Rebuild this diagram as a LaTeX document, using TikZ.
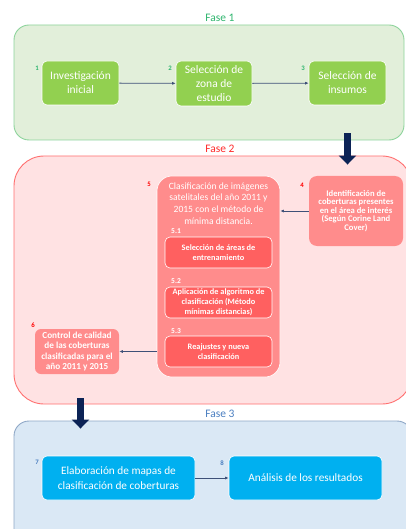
\documentclass[tikz,border=0pt]{standalone}
\usepackage{fontspec}
\setmainfont{Carlito}
\usetikzlibrary{arrows.meta,positioning}

\definecolor{greenFill}{HTML}{E2EFDA}
\definecolor{greenLine}{HTML}{8CD39B}
\definecolor{greenBox}{HTML}{92D050}
\definecolor{greenText}{HTML}{2FB56E}
\definecolor{redFill}{HTML}{FFE2E3}
\definecolor{redLine}{HTML}{FF7070}
\definecolor{redBox}{HTML}{FF8C8C}
\definecolor{redSub}{HTML}{FF6060}
\definecolor{redText}{HTML}{FF2A2A}
\definecolor{blueFill}{HTML}{DAE8F5}
\definecolor{blueLine}{HTML}{8EA7C6}
\definecolor{blueBox}{HTML}{00B0F0}
\definecolor{blueText}{HTML}{4A7EC0}
\definecolor{navy}{HTML}{0C2356}
\definecolor{flowC}{HTML}{3E5078}

\begin{document}
\begin{tikzpicture}[x=1pt,y=-1pt,
		phase/.style={draw, line width=0.9pt, inner sep=0pt},
		phaselabel/.style={font=\fontsize{11.5}{13}\selectfont},
		stepbox/.style={draw=white, line width=0.6pt, rounded corners=5pt, text=white, align=center, inner sep=0pt},
		subbox/.style={stepbox, fill=redSub, minimum width=107pt, minimum height=31pt, font=\bfseries\fontsize{8.3}{10}\selectfont},
		num/.style={font=\bfseries\fontsize{6.8}{7}\selectfont, inner sep=0pt},
		flow/.style={draw=flowC, line width=0.8pt, -{Latex[length=3.5pt,width=3pt]}},
		bigarrow/.style={draw=navy, line width=7.5pt, -{Triangle[length=9pt,width=17pt]}},
	]
	\useasboundingbox (0,0) rectangle (405,529);

	% phase frames
	\node[phase, draw=greenLine, fill=greenFill, rounded corners=15pt, minimum width=390pt, minimum height=115pt] (phase1) at (209,82.5) {};
	\node[phase, draw=redLine, fill=redFill, rounded corners=30pt, minimum width=398pt, minimum height=248pt] (phase2) at (213,280) {};
	\node[phase, draw=blueLine, fill=blueFill, rounded corners=15pt, minimum width=398pt, minimum height=124pt] (phase3) at (213,483) {};

	\node[phaselabel, text=greenText] (fase1) at (220,18) {Fase 1};
	\node[phaselabel, text=redText] (fase2) at (220,149) {Fase 2};
	\node[phaselabel, text=blueText] (fase3) at (220,414) {Fase 3};

	% fase 1
	\node[stepbox, fill=greenBox, minimum width=77pt, minimum height=44pt, font=\fontsize{11.5}{14}\selectfont] (box1) at (80.5,83) {Investigación\\inicial};
	\node[stepbox, fill=greenBox, minimum width=76pt, minimum height=45pt, font=\fontsize{11.5}{14}\selectfont] (box2) at (214,83.5) {Selección de\\zona de\\estudio};
	\node[stepbox, fill=greenBox, minimum width=77pt, minimum height=44pt, font=\fontsize{11.5}{14}\selectfont] (box3) at (347.5,83) {Selección de\\insumos};
	\node[num, text=greenText] (n1) at (37,68) {1};
	\node[num, text=greenText] (n2) at (170,68) {2};
	\node[num, text=greenText] (n3) at (303,68) {3};

	\draw[flow] (box1) -- (box2);
	\draw[flow] (box2) -- (box3);

	% fase 2
	\node[stepbox, fill=redBox, rounded corners=15pt, minimum width=123pt, minimum height=201pt] (box5) at (218.5,276.5) {};
	\node[text=white, align=center, inner sep=0pt, font=\fontsize{9.6}{11.7}\selectfont] (box5txt) at (218.5,203.5) {Clasificación de imágenes\\satelitales del año 2011 y\\2015 con el método de\\mínima distancia.};
	\node[subbox] (box51) at (218.5,252.5) {Selección de\ áreas de\\entrenamiento};
	\node[subbox] (box52) at (218.5,302.5) {Aplicación de algoritmo de\\clasificación (Método\\mínimas distancias)};
	\node[subbox] (box53) at (218.5,351.5) {Reajustes y nueva\\clasificación};
	\node[num, text=white, font=\bfseries\fontsize{7.5}{8}\selectfont] (n51) at (176,231) {5.1};
	\node[num, text=white, font=\bfseries\fontsize{7.5}{8}\selectfont] (n52) at (176,281.5) {5.2};
	\node[num, text=white, font=\bfseries\fontsize{7.5}{8}\selectfont] (n53) at (176,331) {5.3};

	\node[stepbox, fill=redBox, draw=none, rounded corners=8pt, minimum width=94pt, minimum height=70pt, font=\bfseries\fontsize{8.6}{8.6}\selectfont] (box4) at (356,211) {Identificación de\\coberturas presentes\\en el área de interés\\(Según Corine Land\\Cover)};
	\node[stepbox, fill=redBox, draw=none, rounded corners=6pt, minimum width=84pt, minimum height=45pt, font=\bfseries\fontsize{9.2}{10.6}\selectfont] (box6) at (77,351.5) {Control de calidad\\de las coberturas\\clasificadas para el\\año 2011 y 2015};
	\node[num, text=red] (n4) at (302,185) {4};
	\node[num, text=red] (n5) at (149,184) {5};
	\node[num, text=red] (n6) at (33,325) {6};

	\draw[flow] (box4.west) -- (box4.west -| box5.east);
	\draw[flow] (box6.east -| box5.west) -- (box6.east);

	% fase 3
	\node[stepbox, fill=blueBox, minimum width=153pt, minimum height=44pt, font=\fontsize{11.3}{15}\selectfont] (box7) at (118.5,478) {Elaboración de mapas de\\clasificación de coberturas};
	\node[stepbox, fill=blueBox, minimum width=153pt, minimum height=44pt, font=\fontsize{11.3}{15}\selectfont] (box8) at (305.5,478) {Análisis de los resultados};
	\node[num, text=blueText] (n7) at (37,462) {7};
	\node[num, text=blueText] (n8) at (222,463) {8};

	\draw[flow] (box7) -- (box8);

	% between phases
	\draw[bigarrow] ([yshift=7pt]phase1.south -| box3) -- ([yshift=-9pt]phase2.north -| box3);
	\draw[bigarrow] ([yshift=6pt]phase2.south -| box1) -- ([yshift=-8pt]phase3.north -| box1);
\end{tikzpicture}
\end{document}
